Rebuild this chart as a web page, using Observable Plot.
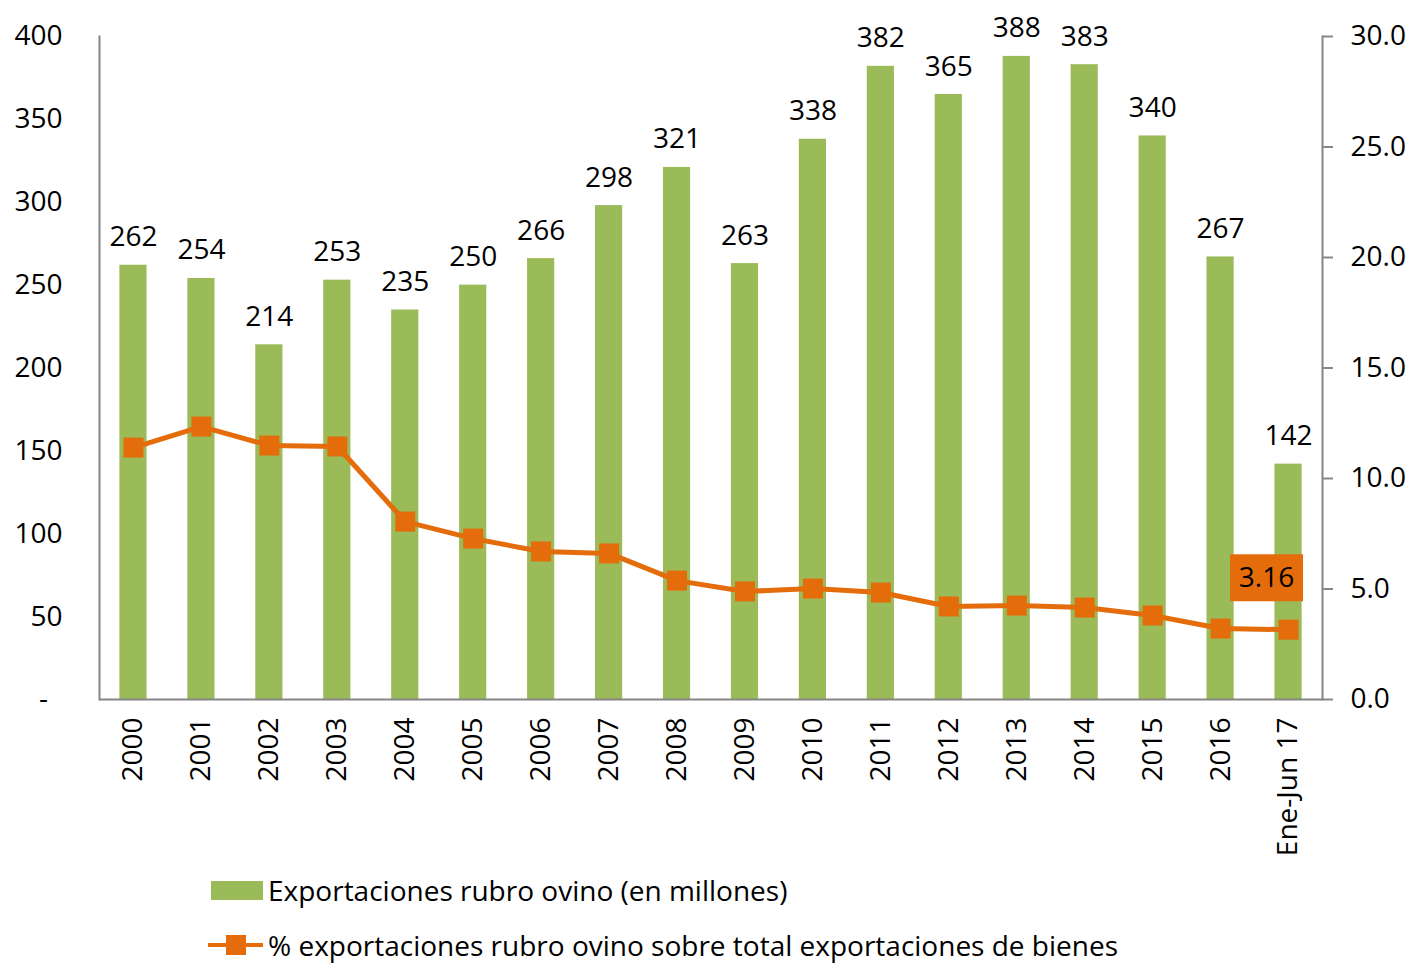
<!DOCTYPE html>
<html>
<head>
<meta charset="utf-8">
<script src="https://cdn.jsdelivr.net/npm/d3@7"></script>
<script src="https://cdn.jsdelivr.net/npm/@observablehq/plot@0.6"></script>
<style>
  body { margin: 0; background: #fff; font-family: "Open Sans", sans-serif; }
  #wrap { position: relative; width: 1412px; height: 965px; overflow: hidden; }
  #legend { position: absolute; left: 0; top: 870px; width: 1412px; height: 95px; }
  .item { position: absolute; left: 208px; height: 30px; display: flex; align-items: center; font-size: 28px; line-height: 30px; color: #000; white-space: nowrap; }
  .sw-bar { width: 52px; height: 19px; background: #9BBB59; margin-left: 3px; margin-right: 5px; }
  .sw-line { position: relative; width: 55px; height: 24px; margin-right: 5px; }
  .sw-line .ln { position: absolute; left: 0; top: 10px; width: 55px; height: 4px; background: #E46C0A; }
  .sw-line .mk { position: absolute; left: 18px; top: 2px; width: 20px; height: 20px; background: #E46C0A; }
</style>
</head>
<body>
<div id="wrap">
  <div id="chart"></div>
  <div id="legend">
    <div class="item" style="top:5px"><div class="sw-bar"></div><span>Exportaciones rubro ovino (en millones)</span></div>
    <div class="item" style="top:60px"><div class="sw-line"><div class="ln"></div><div class="mk"></div></div><span>% exportaciones rubro ovino sobre total exportaciones de bienes</span></div>
  </div>
</div>
<script>
const years = ["2000","2001","2002","2003","2004","2005","2006","2007","2008","2009","2010","2011","2012","2013","2014","2015","2016","Ene-Jun 17"];
const exportsValues = [262,254,214,253,235,250,266,298,321,263,338,382,365,388,383,340,267,142];
const shareValues = [11.4,12.35,11.49,11.45,8.05,7.28,6.7,6.61,5.38,4.89,5.02,4.84,4.21,4.25,4.16,3.8,3.21,3.16];
const leftTicks = [0,50,100,150,200,250,300,350,400];
const rightTicks = [0,5,10,15,20,25,30];

const k = 400 / 30; // right axis (%) mapped onto left axis scale
const data = years.map((y, i) => ({year: y, value: exportsValues[i], share: shareValues[i], shareScaled: shareValues[i] * k}));
const last = data[data.length - 1];

const BAR = "#9BBB59", ORANGE = "#E46C0A", AXIS = "#868686";
const squareSymbol = {draw(ctx) { ctx.rect(-10, -10, 20, 20); }};
const boxSymbol = {draw(ctx) { ctx.rect(-36.5, -23.5, 73, 47); }};

const chart = Plot.plot({
  width: 1412,
  height: 870,
  marginLeft: 99,
  marginRight: 90,
  marginTop: 36,
  marginBottom: 171,
  style: {fontFamily: "Open Sans, sans-serif", fontSize: "28px", color: "#000", background: "#fff"},
  x: {domain: years, paddingInner: 0.6, paddingOuter: 0.3, round: false, label: null},
  y: {domain: [0, 400], label: null},
  marks: [
    Plot.barY(data, {x: "year", y: "value", fill: BAR}),
    Plot.text(data, {x: "year", y: "value", text: d => String(d.value), lineAnchor: "bottom", dy: -19, fontSize: 28, fill: "#000"}),
    Plot.line(data, {x: "year", y: "shareScaled", stroke: ORANGE, strokeWidth: 5}),
    Plot.dot(data, {x: "year", y: "shareScaled", symbol: squareSymbol, fill: ORANGE, stroke: null, r: 10}),
    Plot.dot([last], {x: "year", y: "shareScaled", symbol: boxSymbol, fill: ORANGE, stroke: null, dx: -22, dy: -52, r: 10}),
    Plot.text([last], {x: "year", y: "shareScaled", text: d => d.share.toFixed(2), dx: -22, dy: -52, fontSize: 28, fill: "#000"}),
    Plot.ruleY([0], {stroke: AXIS, strokeWidth: 2}),
    Plot.axisY({ticks: leftTicks, tickFormat: d => d === 0 ? "-\u00a0\u00a0" : String(d), tickSize: 0, tickPadding: 37, fontSize: 28, label: null}),
    Plot.axisY({anchor: "right", ticks: rightTicks.map(v => v * k), tickFormat: d => (d / k).toFixed(1), tickSize: 10, tickPadding: 18, stroke: AXIS, strokeWidth: 2, fontSize: 28, label: null}),
    Plot.axisX({tickRotate: -90, tickSize: 0, tickPadding: 18, fontSize: 28, label: null}),
    Plot.frame({anchor: "left", stroke: AXIS, strokeWidth: 2}),
    Plot.frame({anchor: "right", stroke: AXIS, strokeWidth: 2})
  ]
});
document.getElementById("chart").appendChild(chart);
</script>
</body>
</html>
